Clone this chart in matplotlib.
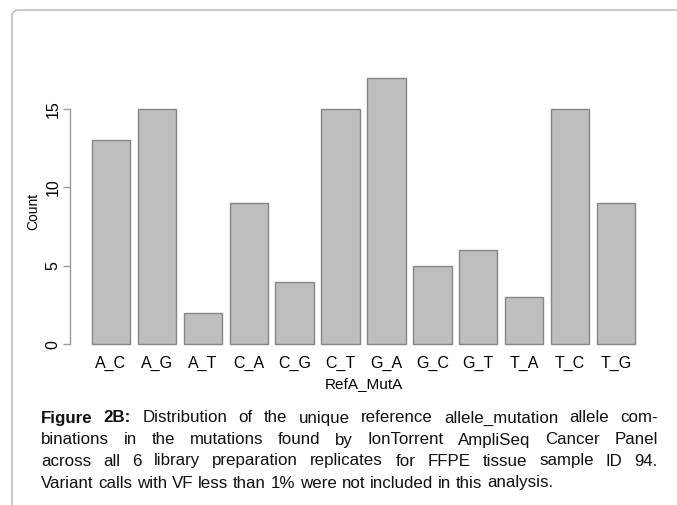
import matplotlib
matplotlib.use("Agg")
import matplotlib.pyplot as plt
import numpy as np

W, H = 677, 505

categories = ["A_C", "A_G", "A_T", "C_A", "C_G", "C_T",
              "G_A", "G_C", "G_T", "T_A", "T_C", "T_G"]
counts = [13, 15, 2, 9, 4, 15, 17, 5, 6, 3, 15, 9]
y_ticks = [0, 5, 10, 15]

x_label = "RefA_MutA"
y_label = "Count"

caption_lines = [
    "Figure 2B: Distribution of the unique reference allele_mutation allele com-",
    "binations in the mutations found by IonTorrent AmpliSeq Cancer Panel",
    "across all 6 library preparation replicates for FFPE tissue sample ID 94.",
    "Variant calls with VF less than 1% were not included in this analysis.",
]
bold_words = 2  # "Figure 2B:" is bold

plt.rcParams["font.family"] = ["Liberation Sans", "DejaVu Sans"]

fig = plt.figure(figsize=(W / 100, H / 100), dpi=100)

# plot region, in pixels: x 70..657, y 67..355
ax = fig.add_axes([70 / W, 1 - 355 / H, 587 / W, 288 / H])
xpos = 0.7 + 1.2 * np.arange(len(categories))   # R barplot spacing
ax.bar(xpos, counts, width=1.0, color="#bebebe", edgecolor="#858585", linewidth=1.0)
ax.set_xlim(0.2 - 0.568, 14.4 + 0.568)
ax.set_ylim(-0.68, 17.68)

for s in ["top", "right", "bottom"]:
    ax.spines[s].set_visible(False)
ax.spines["left"].set_bounds(0, 15)
ax.spines["left"].set_color("#9a9a9a")
ax.spines["left"].set_linewidth(1.0)

ax.set_yticks(y_ticks)
ax.set_yticklabels([str(v) for v in y_ticks], rotation=90, va="center", fontsize=11.5)
ax.tick_params(axis="y", length=5, color="#9a9a9a", width=1.0, pad=2)
ax.set_xticks(xpos)
ax.set_xticklabels(categories, fontsize=11.5)
ax.tick_params(axis="x", length=0, pad=0.5)
ax.patch.set_visible(False)

fig.text(33 / W, 1 - 211 / H, y_label, rotation=90, ha="center", va="center", fontsize=10)
fig.text(363.5 / W, 1 - 384 / H, x_label, ha="center", va="center", fontsize=11)

# rounded frame at top-left, running off the right and bottom edges
r = 6.0
x0, y0 = 12.0, 10.0
t = np.linspace(np.pi, np.pi / 2, 20)
arc_x = x0 + r + r * np.cos(t)
arc_y = y0 + r - r * np.sin(t)
fx = np.concatenate([[x0], arc_x, [W + 5]])
fy = np.concatenate([[H + 5], arc_y, [y0]])
fig.add_artist(plt.Line2D(fx / W, 1 - fy / H, transform=fig.transFigure,
                          color="#b3b3b3", lw=1.0))

# justified caption
CAP_FS = 12.2
left, right = 41.0, 658.0
line_y = [418, 440, 461, 483]
renderer = fig.canvas.get_renderer()

def width_of(txt, weight="normal"):
    o = fig.text(0, 0, txt, fontsize=CAP_FS, fontweight=weight)
    w = o.get_window_extent(renderer).width
    o.remove()
    return w

space_w = width_of("a a") - width_of("aa")

for i, line in enumerate(caption_lines):
    words = line.split(" ")
    objs = []
    for j, w in enumerate(words):
        wt = "bold" if (i == 0 and j < bold_words) else "normal"
        objs.append(fig.text(0, 1 - line_y[i] / H, w, fontsize=CAP_FS, fontweight=wt,
                             ha="left", va="center", color="#111111"))
    widths = [o.get_window_extent(renderer).width for o in objs]
    last = i == len(caption_lines) - 1
    gap = space_w if last else (right - left - sum(widths)) / (len(words) - 1)
    xx = left
    for o, wd in zip(objs, widths):
        o.set_x(xx / W)
        xx += wd + gap

fig.savefig("out.png", dpi=100)
